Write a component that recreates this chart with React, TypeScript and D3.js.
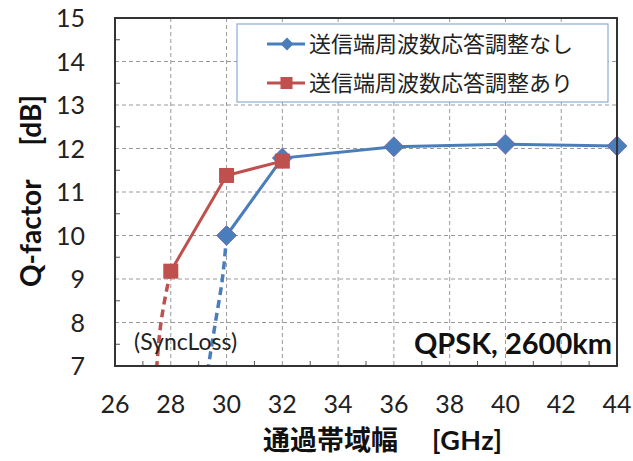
import React from "react";
import * as d3 from "d3";

const xTicks = [26, 28, 30, 32, 34, 36, 38, 40, 42, 44];
const yTicks = [7, 8, 9, 10, 11, 12, 13, 14, 15];
const blueX = [30, 32, 36, 40, 44];
const blueY = [10.0, 11.78, 12.04, 12.1, 12.06];
const redX = [28, 30, 32];
const redY = [9.18, 11.38, 11.71];
const blueDashX = [30, 29.85, 29.6, 29.35];
const blueDashY = [10.0, 9.0, 8.0, 7.0];
const redDashX = [28, 27.83, 27.65, 27.5];
const redDashY = [9.18, 8.68, 8.0, 7.0];
const seriesNames = ["送信端周波数応答調整なし", "送信端周波数応答調整あり"];
const BLUE = "#4a7ebb";
const RED = "#c0504d";
const FONT = "Lato, 'Noto Sans CJK JP', sans-serif";
const JFONT = "'Noto Sans CJK JP', sans-serif";

export default function App() {
  const W = 633, H = 461;
  const L = 115, R = 617, T = 18, B = 366;
  const x = d3.scaleLinear().domain([26, 44]).range([L, R]);
  const y = d3.scaleLinear().domain([7, 15]).range([B, T]);
  const line = d3.line<[number, number]>().x(d => x(d[0])).y(d => y(d[1]));
  const curve = d3.line<[number, number]>().x(d => x(d[0])).y(d => y(d[1])).curve(d3.curveMonotoneY);
  const blue = blueX.map((v, i) => [v, blueY[i]] as [number, number]);
  const red = redX.map((v, i) => [v, redY[i]] as [number, number]);
  const blueDash = blueDashX.map((v, i) => [v, blueDashY[i]] as [number, number]);
  const redDash = redDashX.map((v, i) => [v, redDashY[i]] as [number, number]);
  const diamond = (cx: number, cy: number, r: number) =>
    `M${cx},${cy - r}L${cx + r},${cy}L${cx},${cy + r}L${cx - r},${cy}Z`;
  const minorY = d3.range(7.5, 15, 1);
  const minorX = d3.range(27, 44, 2);
  return (
    <svg width={W} height={H} style={{ position: "absolute", left: 0, top: 0, background: "#fff" }}>
      <rect x={0} y={0} width={W} height={H} fill="#fff" />
      <defs>
        <clipPath id="pa"><rect x={L} y={T} width={R - L} height={B - T} /></clipPath>
      </defs>
      {/* grid */}
      {xTicks.slice(1, -1).map(t => (
        <line key={"gx" + t} x1={x(t)} x2={x(t)} y1={T} y2={B} stroke="#999" strokeWidth={1} strokeDasharray="4,3" />
      ))}
      {yTicks.slice(1, -1).map(t => (
        <line key={"gy" + t} x1={L} x2={R} y1={y(t)} y2={y(t)} stroke="#999" strokeWidth={1} strokeDasharray="4,3" />
      ))}
      {minorY.map(t => (
        <line key={"my" + t} x1={L} x2={L + 5} y1={y(t)} y2={y(t)} stroke="#555" strokeWidth={1} />
      ))}
      {minorX.map(t => (
        <line key={"mx" + t} x1={x(t)} x2={x(t)} y1={B} y2={B - 5} stroke="#555" strokeWidth={1} />
      ))}
      {/* legend box */}
      <rect x={237} y={24} width={371} height={78} fill="#fff" stroke="#8eaadb" strokeWidth={1.2} />
      <line x1={267} x2={305} y1={44} y2={44} stroke={BLUE} strokeWidth={3} />
      <path d={diamond(287, 44, 6.5)} fill={BLUE} />
      <text x={309} y={52} fontSize={22} fontFamily={JFONT} fill="#222">{seriesNames[0]}</text>
      <line x1={267} x2={305} y1={83} y2={83} stroke={RED} strokeWidth={3} />
      <rect x={280.5} y={77} width={12} height={12} fill={RED} />
      <text x={309} y={91} fontSize={22} fontFamily={JFONT} fill="#222">{seriesNames[1]}</text>
      {/* data */}
      <g clipPath="url(#pa)">
        <path d={curve(blueDash) || ""} fill="none" stroke={BLUE} strokeWidth={3.5} strokeDasharray="8,5" />
        <path d={curve(redDash) || ""} fill="none" stroke={RED} strokeWidth={3.5} strokeDasharray="8,5" />
      </g>
      <path d={line(blue) || ""} fill="none" stroke={BLUE} strokeWidth={3} />
      <path d={line(red) || ""} fill="none" stroke={RED} strokeWidth={3} />
      {blue.map((d, i) => (
        <path key={"bd" + i} d={diamond(x(d[0]), y(d[1]), 10)} fill={BLUE} stroke="#7a5fb0" strokeWidth={0.8} />
      ))}
      {red.map((d, i) => (
        <rect key={"rs" + i} x={x(d[0]) - 7.5} y={y(d[1]) - 7.5} width={15} height={15} fill={RED} />
      ))}
      {/* frame */}
      <rect x={L} y={T} width={R - L} height={B - T} fill="none" stroke="#333" strokeWidth={2} />
      {/* annotations */}
      <text x={134} y={350} fontSize={23} fontFamily={FONT} fill="#222">(SyncLoss)</text>
      <text x={612} y={354} fontSize={29} fontWeight="bold" fontFamily={FONT} fill="#111" textAnchor="end">QPSK, 2600km</text>
      {/* tick labels */}
      {yTicks.map(t => (
        <text key={"yl" + t} x={85} y={y(t) + 9} fontSize={25} fontFamily={FONT} fill="#222" textAnchor="end">{t}</text>
      ))}
      {xTicks.map(t => (
        <text key={"xl" + t} x={x(t)} y={413} fontSize={25} fontFamily={FONT} fill="#222" textAnchor="middle">{t}</text>
      ))}
      <text x={263} y={450} fontSize={27} fontWeight="bold" fontFamily={JFONT} fill="#111">通過帯域幅</text>
      <text x={432} y={450} fontSize={27} fontWeight="bold" fontFamily={FONT} fill="#111" textLength={70}>[GHz]</text>
      <g transform={`translate(41,191) rotate(-90)`}>
        <text x={-96} y={0} fontSize={28} fontWeight="bold" fontFamily={FONT} fill="#111">Q-factor</text>
        <text x={96} y={0} fontSize={28} fontWeight="bold" fontFamily={FONT} fill="#111" textAnchor="end">[dB]</text>
      </g>
    </svg>
  );
}
